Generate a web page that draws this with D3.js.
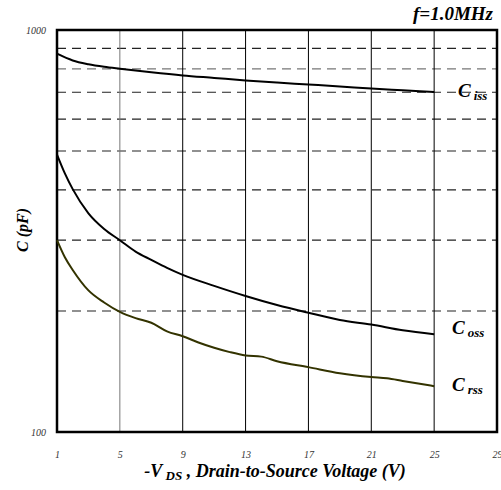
<!DOCTYPE html>
<html>
<head>
<meta charset="utf-8">
<script src="https://cdn.jsdelivr.net/npm/d3@7"></script>
<style>
  body { margin: 0; background: #fff; }
  text { font-family: "Liberation Serif", "Times New Roman", serif; }
</style>
</head>
<body>
<svg id="chart" width="501" height="490"></svg>
<script>
// capacitance vs -Vds
var vIss = [1, 2, 3, 4, 5, 7, 9, 11, 13, 15, 17, 19, 21, 23, 25];
var cIss = [873, 840, 822, 810, 801, 785, 771, 760, 749, 740, 732, 724, 715, 708, 701];

var vOss = [1, 1.5, 2, 3, 4, 5, 6, 7, 8, 9, 11, 13, 15, 17, 19, 21, 23, 25];
var cOss = [490, 440, 402, 350, 320, 300, 281, 268, 256, 246, 231, 218, 207, 198, 190, 185, 179, 175];

var vRss = [1, 1.5, 2, 3, 4, 5, 6, 7, 8, 9, 10, 11, 12, 13, 14, 15, 17, 19, 21, 22, 23, 25];
var cRss = [300, 272, 253, 225, 210, 199, 192, 187, 178, 173, 167, 162, 158, 155, 154, 150, 145, 140, 137, 136, 134, 130];

var xTicks = [1, 5, 9, 13, 17, 21, 25, 29];
var yMinor = [200, 300, 400, 500, 600, 700, 800, 900];

// plot box (not "top" - that name belongs to window)
var PL = 57, PR = 497, PT = 30, PB = 432;

var svg = d3.select("#chart");

var x = d3.scaleLinear().domain([1, 29]).range([PL, PR]);
var y = d3.scaleLog().domain([100, 1000]).range([PB, PT]);

// dashed horizontal grid
svg.append("g").selectAll("line")
    .data(yMinor)
    .enter()
    .append("line")
    .attr("x1", PL).attr("x2", PR)
    .attr("y1", function(d) { return y(d); })
    .attr("y2", function(d) { return y(d); })
    .attr("stroke", function(d) { return d == 800 ? "#777" : "#222"; })
    .attr("stroke-width", 1.2)
    .attr("stroke-dasharray", "9,6");

// solid vertical grid
svg.append("g").selectAll("line")
    .data(xTicks.slice(1, -1))
    .enter()
    .append("line")
    .attr("x1", function(d) { return x(d); })
    .attr("x2", function(d) { return x(d); })
    .attr("y1", PT).attr("y2", PB)
    .attr("stroke", function(d) { return d == 5 ? "#777" : "#000"; })
    .attr("stroke-width", 1);

// frame
svg.append("rect")
    .attr("x", PL).attr("y", PT)
    .attr("width", PR - PL).attr("height", PB - PT)
    .attr("fill", "none")
    .attr("stroke", "#000")
    .attr("stroke-width", 2.5);

// x tick labels
svg.append("g")
    .attr("transform", "translate(0," + (PB + 19) + ")")
    .call(d3.axisBottom(x).tickValues(xTicks).tickSize(0).tickPadding(0))
    .call(function(g) { g.select(".domain").remove(); })
    .selectAll("text")
    .attr("font-family", "Liberation Serif")
    .attr("font-style", "italic")
    .attr("font-size", 10)
    .attr("fill", "#333");

// y tick labels (decades only)
svg.append("g")
    .attr("transform", "translate(" + (PL - 11) + ",0)")
    .call(d3.axisLeft(y).tickValues([100, 1000]).tickFormat(d3.format("d")).tickSize(0).tickPadding(0))
    .call(function(g) { g.select(".domain").remove(); })
    .selectAll("text")
    .attr("font-family", "Liberation Serif")
    .attr("font-style", "italic")
    .attr("font-size", 10)
    .attr("fill", "#333");

var line = d3.line()
    .x(function(d) { return x(d[0]); })
    .y(function(d) { return y(d[1]); })
    .curve(d3.curveMonotoneX);

var series = [
    { v: vIss, c: cIss, color: "#000" },
    { v: vOss, c: cOss, color: "#000" },
    { v: vRss, c: cRss, color: "#333300" }
];

svg.append("g").selectAll("path")
    .data(series)
    .enter()
    .append("path")
    .attr("d", function(s) { return line(d3.zip(s.v, s.c)); })
    .attr("fill", "none")
    .attr("stroke", function(s) { return s.color; })
    .attr("stroke-width", 2);

// curve labels
var labels = [
    { sub: "iss", x: 458, y: 97 },
    { sub: "oss", x: 452, y: 334 },
    { sub: "rss", x: 452, y: 391 }
];
var lab = svg.append("g").selectAll("text")
    .data(labels)
    .enter()
    .append("text")
    .attr("x", function(d) { return d.x; })
    .attr("y", function(d) { return d.y; })
    .attr("font-weight", "bold")
    .attr("font-style", "italic")
    .attr("font-size", 19);
lab.append("tspan").text("C");
lab.append("tspan")
    .attr("dx", 3)
    .attr("dy", 3)
    .attr("font-size", 13)
    .text(function(d) { return d.sub; });

svg.append("text")
    .attr("x", 493).attr("y", 20)
    .attr("text-anchor", "end")
    .attr("font-weight", "bold")
    .attr("font-style", "italic")
    .attr("font-size", 19)
    .text("f=1.0MHz");

svg.append("text")
    .attr("transform", "translate(28,230) rotate(-90)")
    .attr("text-anchor", "middle")
    .attr("font-weight", "bold")
    .attr("font-style", "italic")
    .attr("font-size", 16)
    .text("C (pF)");

var xt = svg.append("text")
    .attr("x", 275).attr("y", 477)
    .attr("text-anchor", "middle")
    .attr("font-weight", "bold")
    .attr("font-style", "italic")
    .attr("font-size", 18);
xt.append("tspan").text("-V");
xt.append("tspan").attr("dy", 3).attr("font-size", 13).text(" DS");
xt.append("tspan").attr("dy", -3).text(" , Drain-to-Source Voltage (V)");
</script>
</body>
</html>
